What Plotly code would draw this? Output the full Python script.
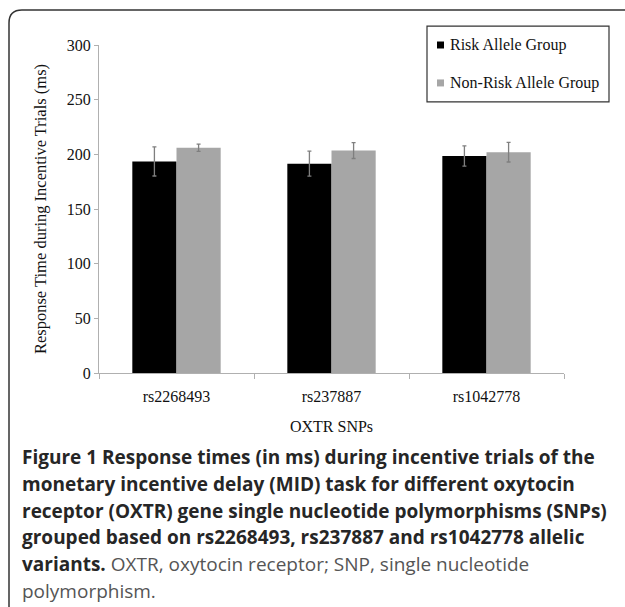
import plotly.graph_objects as go

categories = ["rs2268493", "rs237887", "rs1042778"]
risk_values = [193.5, 191.5, 198.5]
risk_errors = [13.3, 11.4, 9.2]
nonrisk_values = [206, 203.5, 202]
nonrisk_errors = [3.3, 7.3, 9]
series_names = ["Risk Allele Group", "Non-Risk Allele Group"]
series_colors = ["#000000", "#a6a6a6"]
y_ticks = [0, 50, 100, 150, 200, 250, 300]

W, H = 625, 607
L, R, T, B = 99, 61, 45, 233.5
PW = W - L - R
PH = H - T - B


def px(x):
    return (x - L) / PW


def py(y):
    return (H - B - y) / PH


serif = "Liberation Serif, Times New Roman, serif"
sans = "Open Sans, Noto Sans, sans-serif"

fig = go.Figure()
fig.add_trace(go.Bar(
    x=categories, y=risk_values, name=series_names[0],
    marker=dict(color=series_colors[0], line=dict(width=0)),
    error_y=dict(type="data", array=risk_errors, color="#7f7f7f", thickness=1.3, width=2),
))
fig.add_trace(go.Bar(
    x=categories, y=nonrisk_values, name=series_names[1],
    marker=dict(color=series_colors[1], line=dict(width=0)),
    error_y=dict(type="data", array=nonrisk_errors, color="#7f7f7f", thickness=1.3, width=2),
))

fig.update_layout(
    width=W, height=H,
    margin=dict(l=L, r=R, t=T, b=B, pad=0),
    paper_bgcolor="white", plot_bgcolor="white",
    barmode="group", bargap=0.43, bargroupgap=0,
    showlegend=False,
    font=dict(family=serif, color="#111111"),
)
fig.update_yaxes(
    range=[0, 300], tickvals=y_ticks, showgrid=False, zeroline=False,
    showline=True, linecolor="#b0b0b0", linewidth=1,
    ticks="outside", ticklen=4, tickcolor="#b0b0b0",
    tickfont=dict(family=serif, size=16, color="#111111"),
    title=dict(text="Response Time during Incentive Trials (ms)",
               font=dict(family=serif, size=16.5, color="#111111"), standoff=16),
)
fig.update_xaxes(
    showgrid=False, showline=True, linecolor="#b0b0b0", linewidth=1,
    ticks="outside", ticklen=5, tickcolor="#b0b0b0", tickson="boundaries",
    ticklabelstandoff=9,
    tickfont=dict(family=serif, size=16, color="#111111"),
    title=dict(text="OXTR SNPs", font=dict(family=serif, size=16, color="#111111"), standoff=16),
)

# legend box (custom, from series names/colors)
lx0, lx1, ly0, ly1 = 427, 609, 26, 102
fig.add_shape(type="rect", xref="paper", yref="paper",
              x0=px(lx0), x1=px(lx1), y0=py(ly1), y1=py(ly0),
              line=dict(color="#333333", width=1.2), fillcolor="white", layer="above")
for name, color, yy in zip(series_names, series_colors, [45, 83]):
    fig.add_shape(type="rect", xref="paper", yref="paper",
                  x0=px(437), x1=px(444), y0=py(yy + 3.5), y1=py(yy - 3.5),
                  line=dict(width=0), fillcolor=color, layer="above")
    fig.add_annotation(text=name, xref="paper", yref="paper", x=px(448), y=py(yy),
                       xanchor="left", yanchor="middle", showarrow=False,
                       font=dict(family=serif, size=16, color="#111111"))

caption_lines = [
    "<b>Figure 1</b> <b>Response times (in ms) during incentive trials of the</b>",
    "<b>monetary incentive delay (MID) task for different oxytocin</b>",
    "<b>receptor (OXTR) gene single nucleotide polymorphisms (SNPs)</b>",
    "<b>grouped based on rs2268493, rs237887 and rs1042778 allelic</b>",
    "<b>variants.</b> <span style='color:#555555'>OXTR, oxytocin receptor; SNP, single nucleotide</span>",
    "<span style='color:#555555'>polymorphism.</span>",
]
line_y = [457.5, 484.5, 511.5, 538, 564.5, 591.5]
for txt, yy in zip(caption_lines, line_y):
    fig.add_annotation(
        text=txt, xref="paper", yref="paper", x=px(20), y=py(yy),
        xanchor="left", yanchor="middle", showarrow=False,
        font=dict(family=sans, size=19, color="#262626"),
    )

# rounded frame
x0, x1 = px(9), px(640)
y0, y1 = py(10), py(620)
rx, ry = 13 / PW, 13 / PH
path = (f"M {x0},{y1} L {x0},{y0 - ry} Q {x0},{y0} {x0 + rx},{y0} L {x1},{y0}")
fig.add_shape(type="path", path=path, xref="paper", yref="paper",
              line=dict(color="#333333", width=1.5), layer="above")

fig.write_html("out.html", config={"displayModeBar": False},
               post_script="document.body.style.margin='0';document.body.style.overflow='hidden';")
